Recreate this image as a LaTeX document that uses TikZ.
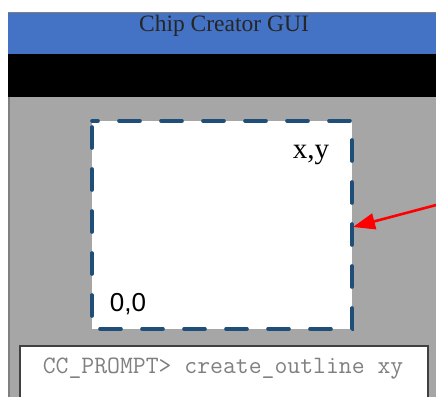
\documentclass[tikz,border=0pt]{standalone}
\usepackage{fontspec}
\setmainfont{Liberation Serif}
\newfontfamily\guisans{Liberation Sans}
\usetikzlibrary{arrows.meta}
\definecolor{titleblue}{HTML}{4472C4}
\definecolor{canvasgray}{HTML}{A6A6A6}
\definecolor{framegray}{HTML}{7F7F7F}
\definecolor{outlineblue}{HTML}{1F4E79}
\definecolor{prompttext}{HTML}{808080}
\tikzset{
  px/.style={x=1pt,y=-1pt},
  outlinebox/.style={draw=outlineblue, line width=3.6pt, line cap=round, dash pattern=on 21pt off 21pt, dash phase=-6pt, fill=white},
  promptbox/.style={draw=black!75, line width=1.5pt, fill=white},
  pointer/.style={draw=red, line width=2.6pt, -{Triangle[length=22pt,width=16pt]}},
}
\begin{document}
\begin{tikzpicture}[px]
  \useasboundingbox (0,0) rectangle (436,396);
  % window body
  \fill[white] (0,0) rectangle (436,396);
  \fill[canvasgray] (8,12) rectangle (440,400);
  \draw[framegray, line width=1.6pt] (9,400) -- (9,13) -- (440,13);
  % title and tool bars
  \fill[titleblue] (8,12) rectangle (440,54);
  \draw[framegray, line width=1pt] (8,12.5) -- (440,12.5);
  \fill[black] (8,54) rectangle (440,97);
  \node[font=\fontsize{23.5}{26}\selectfont, text=black!85, anchor=center, inner sep=0pt] (title) at (224,26) {Chip Creator GUI};
  % dashed outline on the canvas
  \draw[outlinebox] (92,121) rectangle (352,329);
  \coordinate (outlineright) at (353,227);
  \node[font=\guisans\fontsize{26}{28}\selectfont, anchor=center, inner sep=0pt] (origin) at (128,304) {0,0};
  \node[font=\fontsize{29}{32}\selectfont, anchor=center, inner sep=0pt] (corner) at (311,155) {x,y};
  % command prompt
  \draw[promptbox] (20,346) rectangle (428,402);
  \node[font=\ttfamily\fontsize{25}{27}\selectfont, text=prompttext, anchor=center, inner sep=0pt] (prompt) at (223,369) {CC\_PROMPT> create\_outline xy};
  % pointer arrow
  \coordinate (pointerstart) at (440,204);
  \draw[pointer] (pointerstart) -- (outlineright);
\end{tikzpicture}
\end{document}
